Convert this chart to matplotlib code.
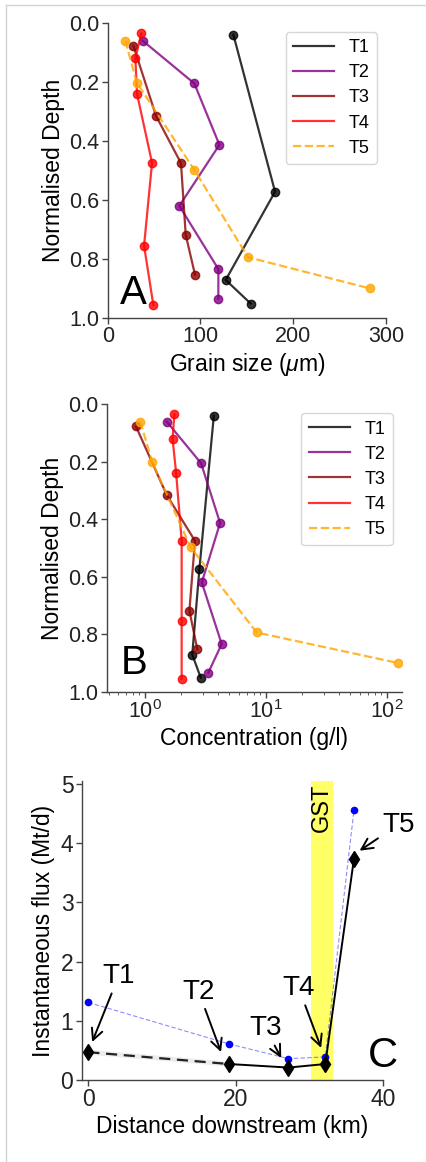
import numpy as np
import matplotlib
matplotlib.use("Agg")
import matplotlib.pyplot as plt
from matplotlib.lines import Line2D

plt.rcParams['font.family'] = ['Liberation Sans', 'DejaVu Sans']
plt.rcParams['mathtext.fontset'] = 'custom'
plt.rcParams['mathtext.rm'] = 'Liberation Sans'
plt.rcParams['mathtext.it'] = 'Liberation Sans:italic'

# -----------------------------
# Data
# -----------------------------
transects = ["T1", "T2", "T3", "T4", "T5"]
colors = ["black", "purple", "darkred", "red", "orange"]
styles = ["-", "-", "-", "-", "--"]

# normalised depth of each sample, per transect
depth_t1 = [0.04, 0.572, 0.871, 0.951]
depth_t2 = [0.06, 0.205, 0.413, 0.62, 0.834, 0.934]
depth_t3 = [0.077, 0.315, 0.475, 0.718, 0.853]
depth_t4 = [0.035, 0.12, 0.24, 0.474, 0.755, 0.956]
depth_t5 = [0.06, 0.202, 0.498, 0.794, 0.9]

# grain size (um), panel A
grain_t1 = [135.5, 180.4, 127.2, 154.1]
grain_t2 = [37.7, 93.4, 120.4, 77.2, 119.3, 119.3]
grain_t3 = [27.7, 52.1, 79.0, 84.1, 94.1]
grain_t4 = [36.3, 29.8, 31.6, 47.8, 39.2, 49.2]
grain_t5 = [19.0, 31.3, 93.4, 151.3, 282.8]

# concentration (g/l), panel B
conc_t1 = [3.71, 2.82, 2.46, 2.89]
conc_t2 = [1.51, 2.91, 4.18, 2.95, 4.31, 3.34]
conc_t3 = [0.842, 1.51, 2.59, 2.33, 2.71]
conc_t4 = [1.75, 1.69, 1.81, 2.01, 2.01, 2.01]
conc_t5 = [0.914, 1.15, 2.39, 8.4, 123.6]

depths = [depth_t1, depth_t2, depth_t3, depth_t4, depth_t5]
grains = [grain_t1, grain_t2, grain_t3, grain_t4, grain_t5]
concs = [conc_t1, conc_t2, conc_t3, conc_t4, conc_t5]

# panel C: flux along the river
distance_km = [0, 19.1, 27.2, 32.2, 36.1]
flux_blue = [1.31, 0.61, 0.36, 0.39, 4.56]
flux_black = [0.47, 0.27, 0.21, 0.27, 3.74]
gst_km = [30.2, 33.3]

W, H = 427, 1162
fig = plt.figure(figsize=(W / 100, H / 100), dpi=100)

# light grey frame on top and left
fig.add_artist(Line2D([6 / W, 1], [1 - 5 / H, 1 - 5 / H], color="#d4d4d4", lw=1))
fig.add_artist(Line2D([6 / W, 6 / W], [0, 1 - 5 / H], color="#d4d4d4", lw=1))


def style_axes(ax, tick_size):
    for s in ["top", "right"]:
        ax.spines[s].set_visible(False)
    for s in ["left", "bottom"]:
        ax.spines[s].set_color("#444444")
        ax.spines[s].set_linewidth(1.0)
    ax.tick_params(labelsize=tick_size, colors="#222222", length=4, width=1,
                   pad=2, color="#444444")
    ax.tick_params(which="minor", length=2, color="#444444")


def depth_panel(ax, xs_list, xlabel, letter, letter_y):
    for xs, ys, c, ls, lab in zip(xs_list, depths, colors, styles, transects):
        ax.plot(xs, ys, ls, color=c, alpha=0.8, lw=1.6, label=lab)
        ax.plot(xs, ys, "o", color=c, alpha=0.8, ms=6)
    ax.set_ylim(1.0, 0.0)
    ax.set_yticks([0.0, 0.2, 0.4, 0.6, 0.8, 1.0])
    ax.set_ylabel("Normalised Depth", fontsize=16.5, labelpad=3)
    ax.set_xlabel(xlabel, fontsize=16.5, labelpad=3)
    style_axes(ax, 15.5)
    ax.legend(loc="upper right", fontsize=13, handlelength=2.3,
              labelspacing=0.45, borderaxespad=0.5)
    ax.text(0.093, letter_y, letter, transform=ax.transAxes, fontsize=29,
            ha="center", va="center")


# -----------------------------
# A) grain size
# -----------------------------
axA = fig.add_axes([107.7 / W, 1 - 318 / H, 278.3 / W, 295 / H])
depth_panel(axA, grains, "Grain size ($\\mu$m)", "A", 0.085)
axA.set_xlim(0, 300)
axA.set_xticks([0, 100, 200, 300])

# -----------------------------
# B) concentration (log x)
# -----------------------------
axB = fig.add_axes([106.7 / W, 1 - 691.7 / H, 295 / W, 287.4 / H])
axB.set_xscale("log")
depth_panel(axB, concs, "Concentration (g/l)", "B", 0.10)
axB.set_xlim(0.482, 133)

# -----------------------------
# C) instantaneous flux
# -----------------------------
axC = fig.add_axes([81.7 / W, 1 - 1080 / H, 301 / W, 299 / H])
axC.axvspan(gst_km[0], gst_km[1], color="yellow", alpha=0.6, lw=0, zorder=0)
axC.text((gst_km[0] + gst_km[1]) / 2, 4.59, "GST", rotation=90, fontsize=17,
         ha="center", va="center")

axC.plot(distance_km, flux_blue, "--", color="blue", alpha=0.45, lw=0.8,
         dashes=(4, 2))
axC.plot(distance_km, flux_blue, "o", color="blue", ms=4.5)

axC.plot(distance_km[:2], flux_black[:2], "-", color="grey", alpha=0.15, lw=3.5)
axC.plot(distance_km[:2], flux_black[:2], "--", color="#222222", lw=1.6,
         dashes=(5, 3))
axC.plot(distance_km[1:], flux_black[1:], "-", color="black", lw=1.4)
axC.plot(distance_km, flux_black, "d", color="black", ms=8.5)

arrow = dict(arrowstyle="->", lw=1.4, color="black", shrinkA=1, shrinkB=1)
labels_xy = [(4.1, 1.75), (15.0, 1.49), (24.1, 0.87), (28.6, 1.55), (42.1, 4.31)]
targets_xy = [(0.45, 0.62), (18.1, 0.45), (26.3, 0.35), (31.7, 0.52), (36.7, 3.86)]
for lab, txt_xy, pt_xy in zip(transects, labels_xy, targets_xy):
    axC.annotate(lab, xy=pt_xy, xytext=txt_xy, fontsize=20, ha="center",
                 va="center", arrowprops=arrow, annotation_clip=False)

axC.text(1.0, 0.08, "C", transform=axC.transAxes, fontsize=30,
         ha="center", va="center")
axC.set_xlim(-0.9, 40)
axC.set_ylim(0, 5.05)
axC.set_xticks([0, 20, 40])
axC.set_yticks([0, 1, 2, 3, 4, 5])
axC.set_xlabel("Distance downstream (km)", fontsize=16.5, labelpad=3)
axC.set_ylabel("Instantaneous flux (Mt/d)", fontsize=16.5, labelpad=4)
style_axes(axC, 16.5)

fig.savefig("out.png", dpi=100)
